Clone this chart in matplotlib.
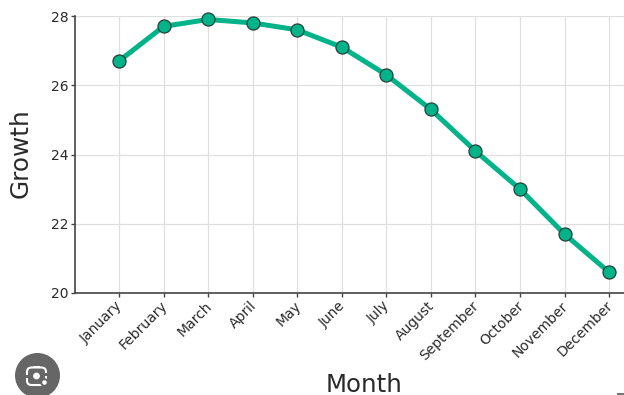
import matplotlib
matplotlib.use("Agg")
import matplotlib.pyplot as plt
from matplotlib.patches import Circle, FancyBboxPatch, Rectangle
from matplotlib.transforms import ScaledTranslation

months = ["January", "February", "March", "April", "May", "June", "July",
          "August", "September", "October", "November", "December"]
growth = [26.7, 27.7, 27.9, 27.8, 27.6, 27.1, 26.3, 25.3, 24.1, 23.0, 21.7, 20.6]
y_ticks = [20, 22, 24, 26, 28]

W, H = 624, 395
fig = plt.figure(figsize=(W / 100, H / 100), dpi=100, facecolor="white")
left, right, top, bottom = 74.5, 624, 16, 293
ax = fig.add_axes([left / W, 1 - bottom / H, (right - left) / W, (bottom - top) / H])

x = list(range(len(months)))
ax.plot(x, growth, color="#00B388", lw=3.6, solid_capstyle="round", zorder=3, clip_on=False)
ax.plot(x, growth, ls="none", marker="o", ms=9.4, mfc="#00B388", mec="#2A3F3A", mew=0.9,
        zorder=4, clip_on=False)

ax.set_xlim(-1, 11.335)
ax.set_ylim(20, 28)
ax.set_xticks(x)
ax.set_xticklabels(months, rotation=45, ha="right", rotation_mode="anchor",
                   fontsize=10, color="#2a2a2a")
ax.set_yticks(y_ticks)
ax.set_yticklabels([str(v) for v in y_ticks], fontsize=10, color="#2a2a2a")
ax.grid(True, color="#dedede", lw=0.85)
ax.set_axisbelow(True)
for s in ("top", "right"):
    ax.spines[s].set_visible(False)
for s in ("left", "bottom"):
    ax.spines[s].set_color("#444444")
    ax.spines[s].set_linewidth(1.2)
ax.tick_params(axis="both", color="#444444", length=2.6, width=1)
ax.tick_params(axis="y", pad=1.5)
ax.tick_params(axis="x", pad=1.5)
shift = ScaledTranslation(-3.5 / 100, 0 / 100, fig.dpi_scale_trans)
for label in ax.get_xticklabels():
    label.set_transform(label.get_transform() + shift)

fig.text(364 / W, 1 - 392 / H, "Month", fontsize=17.6, color="#2a2a2a", ha="center", va="baseline")
fig.text(21 / W, 1 - 153 / H, "Growth", fontsize=17.8, color="#2a2a2a", rotation=90,
         ha="center", va="center")

# Lens badge in the lower left corner and the small mark in the lower right corner
overlay = fig.add_axes([0, 0, 1, 1], facecolor="none")
overlay.set_xlim(0, W)
overlay.set_ylim(H, 0)
overlay.set_aspect("equal")
overlay.axis("off")
grey = "#666666"
overlay.add_patch(Circle((37.5, 375.5), 22.5, fc=grey, ec="none"))
overlay.add_patch(FancyBboxPatch((27, 367.5), 19, 17.5, boxstyle="round,pad=0,rounding_size=4.5",
                                 fc="none", ec="white", lw=1.5))
overlay.add_patch(Rectangle((33, 365.5), 7, 2.2, fc="white", ec="none"))
overlay.add_patch(Rectangle((24, 375), 6, 3, fc=grey, ec="none"))
overlay.add_patch(Rectangle((44, 373), 5, 3, fc=grey, ec="none"))
overlay.add_patch(Circle((36.5, 376), 3.4, fc="white", ec="none"))
overlay.add_patch(Circle((44.5, 382.5), 4.3, fc=grey, ec="none"))
overlay.add_patch(Circle((44.5, 382.5), 2.3, fc="white", ec="none"))
overlay.add_patch(Rectangle((617, 393), 7, 2, fc="#777777", ec="none"))

fig.savefig("out.png", dpi=100, facecolor="white")
